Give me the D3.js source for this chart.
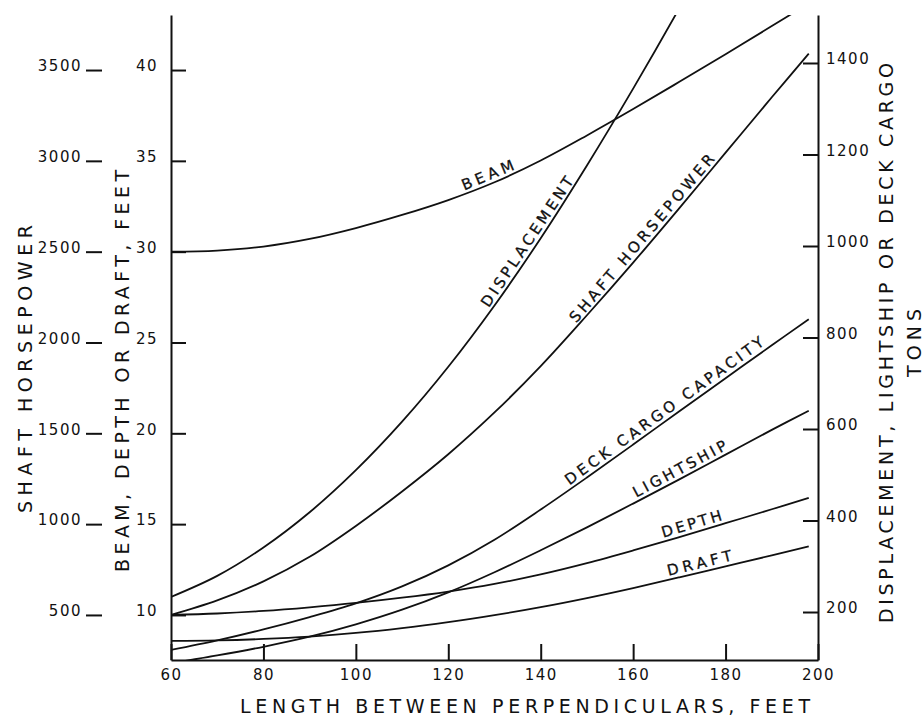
<!DOCTYPE html>
<html>
<head>
<meta charset="utf-8">
<script src="https://cdn.jsdelivr.net/npm/d3@7"></script>
<style>
  body { margin: 0; background: #fff; }
  svg text { font-family: "DejaVu Sans", sans-serif; fill: #111; }
  .axis path, .axis line { stroke: #111; stroke-width: 2; }
  .axis text { font-size: 15px; letter-spacing: 1.5px; }
</style>
</head>
<body>
<div id="graph"></div>
<script>
// length between perpendiculars, feet (x axis)
const lengthFt = [60, 70, 80, 90, 100, 110, 120, 130, 140, 150, 160, 170, 180, 190, 198];

// feet, left inner scale
const beamFt = [30.0, 30.06, 30.28, 30.7, 31.3, 32.02, 32.84, 33.82, 35.02, 36.4, 37.85, 39.35, 40.87, 42.42, 43.67];
const depthFt = [10.0, 10.08, 10.22, 10.42, 10.66, 10.95, 11.29, 11.71, 12.23, 12.85, 13.55, 14.29, 15.05, 15.82, 16.44];
const draftFt = [8.57, 8.6, 8.68, 8.81, 9.01, 9.28, 9.61, 9.99, 10.43, 10.93, 11.48, 12.07, 12.68, 13.28, 13.78];

// shaft horsepower, left outer scale
const shaftHp = [500, 580, 685, 820, 990, 1180, 1385, 1615, 1870, 2150, 2440, 2740, 3045, 3350, 3590];

// tons, right scale
const displacementTons = [233, 279, 341, 418, 510, 616, 736, 870, 1017, 1176, 1344, 1520, 1704, null, null];
const deckCargoTons = [117, 138, 162, 189, 219, 256, 302, 358, 424, 494, 566, 639, 711, 783, 840];
const lightshipTons = [88, 105, 124, 146, 173, 205, 243, 287, 335, 385, 437, 490, 544, 598, 640];

// tick labels
const xTicks = [60, 80, 100, 120, 140, 160, 180, 200];
const ftTicks = [10, 15, 20, 25, 30, 35, 40];
const hpTicks = [500, 1000, 1500, 2000, 2500, 3000, 3500];
const tonTicks = [200, 400, 600, 800, 1000, 1200, 1400];

function drawChart() {
  // set the dimensions and margins of the graph
  let margin = { top: 15, right: 106, bottom: 60, left: 171 },
    width = 924 - margin.left - margin.right,
    height = 720 - margin.top - margin.bottom;

  let root = d3
    .select("#graph")
    .append("svg")
    .attr("width", 924)
    .attr("height", 720);

  let svg = root
    .append("g")
    .attr("transform", `translate(${margin.left},${margin.top})`);

  // scales. horsepower scale lines up with the feet scale (10 ft = 500 hp)
  let x = d3.scaleLinear().domain([60, 200]).range([0, width]);
  let yFt = d3.scaleLinear().domain([7.52, 43.03]).range([height, 0]);
  let yHp = d3
    .scaleLinear()
    .domain(yFt.domain().map((f) => 100 * f - 500))
    .range([height, 0]);
  let yTons = d3.scaleLinear().domain([95.1, 1504.9]).range([height, 0]);

  addAxes(svg, width, height, x, yFt, yHp, yTons);

  //clip curves to the plot area
  svg
    .append("clipPath")
    .attr("id", "plotClip")
    .append("rect")
    .attr("width", width)
    .attr("height", height);

  let series = [
    { name: "BEAM", values: beamFt, y: yFt, at: 129.3, len: 55 },
    { name: "DISPLACEMENT", values: displacementTons, y: yTons, at: 138.7, len: 153 },
    { name: "SHAFT HORSEPOWER", values: shaftHp, y: yHp, at: 163.4, len: 215 },
    { name: "DECK CARGO CAPACITY", values: deckCargoTons, y: yTons, at: 167.9, len: 241 },
    { name: "LIGHTSHIP", values: lightshipTons, y: yTons, at: 171, len: 104 },
    { name: "DEPTH", values: depthFt, y: yFt, at: 173.2, len: 62 },
    { name: "DRAFT", values: draftFt, y: yFt, at: 174.8, len: 66 },
  ];

  series.forEach((s) => addCurve(svg, s, x));
  addTitles(root);
}

function addAxes(svg, width, height, x, yFt, yHp, yTons) {
  let fmt = d3.format("d");

  // bottom axis, ticks point into the plot
  svg
    .append("g")
    .attr("class", "axis")
    .attr("transform", `translate(0,${height})`)
    .call(
      d3.axisBottom(x).tickValues(xTicks).tickFormat(fmt)
        .tickSizeInner(-16).tickSizeOuter(0).tickPadding(9)
    );

  // beam, depth or draft feet
  svg
    .append("g")
    .attr("class", "axis")
    .call(
      d3.axisLeft(yFt).tickValues(ftTicks).tickFormat(fmt)
        .tickSizeInner(-15).tickSizeOuter(0).tickPadding(13)
    )
    .selectAll("text")
    .attr("dy", "0.05em");

  // shaft horsepower, dashes only, no axis line
  let hpAxis = svg
    .append("g")
    .attr("class", "axis")
    .attr("transform", "translate(-69,0)")
    .call(
      d3.axisLeft(yHp).tickValues(hpTicks).tickFormat(fmt)
        .tickSizeInner(16).tickSizeOuter(0).tickPadding(4)
    );
  hpAxis.select(".domain").remove();
  hpAxis.selectAll("text").attr("dy", "0.05em");

  // tons on the right
  svg
    .append("g")
    .attr("class", "axis")
    .attr("transform", `translate(${width},0)`)
    .call(
      d3.axisRight(yTons).tickValues(tonTicks).tickFormat(fmt)
        .tickSizeInner(-15).tickSizeOuter(0).tickPadding(8)
    )
    .selectAll("text")
    .attr("dy", "0.05em");

  svg.selectAll(".axis .domain").attr("fill", "none");
}

function addCurve(svg, s, x) {
  let pts = lengthFt.map((l, i) => [l, s.values[i]]);
  let line = d3
    .line()
    .defined((d) => d[1] != null)
    .x((d) => x(d[0]))
    .y((d) => s.y(d[1]))
    .curve(d3.curveCatmullRom.alpha(0.5));

  svg
    .append("path")
    .datum(pts)
    .attr("clip-path", "url(#plotClip)")
    .attr("fill", "none")
    .attr("stroke", "#111")
    .attr("stroke-width", 1.8)
    .attr("d", line);

  // label sits on the curve, rotated with the local slope
  let good = pts.filter((d) => d[1] != null);
  let interp = d3
    .scaleLinear()
    .domain(good.map((d) => d[0]))
    .range(good.map((d) => d[1]));
  let px = x(s.at),
    py = s.y(interp(s.at));
  let dx = x(s.at + 3) - x(s.at - 3),
    dy = s.y(interp(s.at + 3)) - s.y(interp(s.at - 3));
  let angle = (Math.atan2(dy, dx) * 180) / Math.PI;

  svg
    .append("text")
    .attr("transform", `translate(${px},${py}) rotate(${angle})`)
    .attr("dy", -4)
    .attr("text-anchor", "middle")
    .attr("font-size", "15px")
    .attr("stroke", "#111")
    .attr("stroke-width", 0.3)
    .attr("textLength", s.len)
    .attr("lengthAdjust", "spacing")
    .text(s.name);
}

function addTitles(root) {
  let titles = [
    { text: "SHAFT  HORSEPOWER", x: 25, y: 369, len: 288 },
    { text: "BEAM,  DEPTH  OR  DRAFT,  FEET", x: 122, y: 371, len: 402 },
    { text: "DISPLACEMENT,  LIGHTSHIP  OR  DECK  CARGO", x: 886, y: 343, len: 560 },
    { text: "TONS", x: 914, y: 343, len: 68 },
  ];
  titles.forEach((t) => {
    root
      .append("text")
      .attr("transform", `translate(${t.x},${t.y}) rotate(-90)`)
      .attr("text-anchor", "middle")
      .attr("dominant-baseline", "central")
      .attr("font-size", "19px")
      .attr("textLength", t.len)
      .attr("lengthAdjust", "spacing")
      .text(t.text);
  });

  root
    .append("text")
    .attr("x", 525)
    .attr("y", 706)
    .attr("text-anchor", "middle")
    .attr("dominant-baseline", "central")
    .attr("font-size", "19px")
    .attr("textLength", 570)
    .attr("lengthAdjust", "spacing")
    .text("LENGTH  BETWEEN  PERPENDICULARS,  FEET");
}

drawChart();
</script>
</body>
</html>
